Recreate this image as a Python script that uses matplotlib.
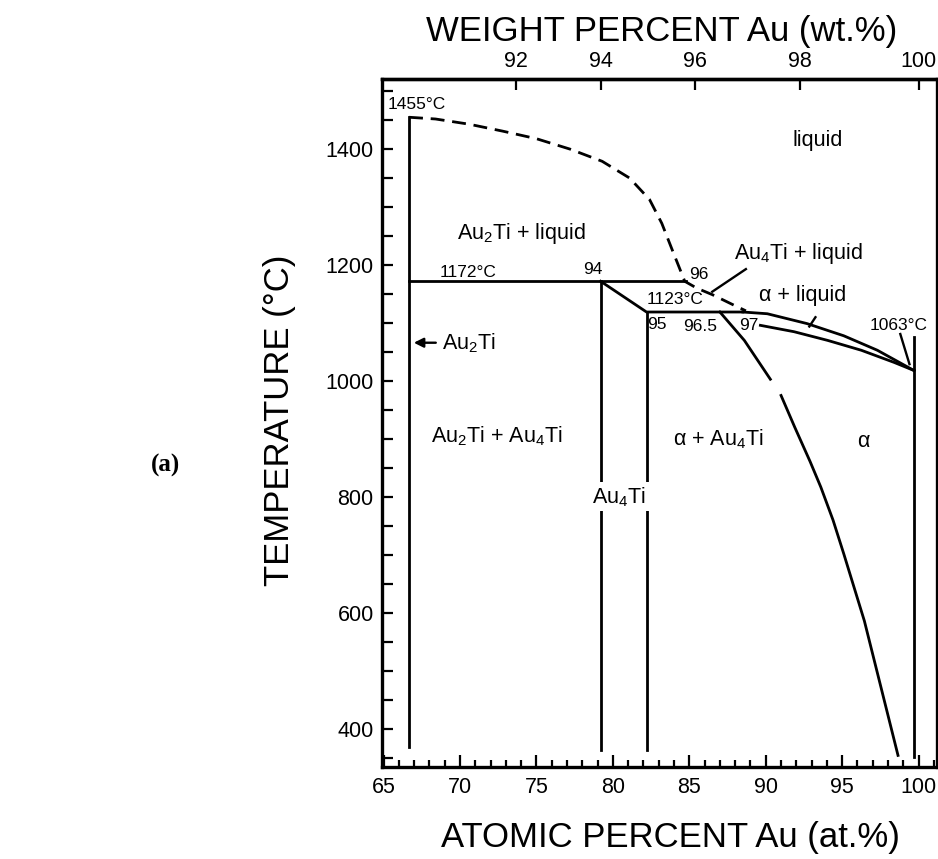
import matplotlib
matplotlib.use("Agg")
import matplotlib.pyplot as plt
from matplotlib.ticker import MultipleLocator, FixedLocator

plt.rcParams['font.family'] = ['Liberation Sans', 'DejaVu Sans']
plt.rcParams['mathtext.fontset'] = 'custom'
plt.rcParams['mathtext.rm'] = 'Liberation Sans'
plt.rcParams['mathtext.default'] = 'regular'

# molar masses for the wt% <-> at% top scale
M_AU = 196.97
M_TI = 47.87

# liquidus of Au2Ti (dashed), at% Au vs temperature
liq_x = [66.67, 68.4, 70.6, 72.8, 75.0, 77.2, 79.3, 81.1, 82.4, 83.2, 83.9, 84.7,
         85.5, 86.5, 87.9, 88.7]
liq_T = [1455, 1452, 1443, 1431, 1418, 1400, 1379, 1350, 1313, 1272, 1225, 1172,
         1160, 1149, 1131, 1121]

# invariant lines
eut_x = [66.67, 84.8]
eut_T = [1172, 1172]
peri_x = [79.2, 82.2, 88.5]
peri_T = [1172, 1119, 1119]

# alpha liquidus and solidus
aliq_x = [88.5, 90.1, 92.7, 95.1, 97.3, 99.7]
aliq_T = [1119, 1116, 1099, 1078, 1053, 1018]
asol_x = [89.65, 91.85, 94.05, 96.25, 98.4, 99.7]
asol_T = [1096, 1085, 1070, 1053, 1032, 1018]

# alpha solvus (two pieces, broken)
solv1_x = [87.0, 88.6, 90.3]
solv1_T = [1119, 1070, 1003]
solv2_x = [91.0, 91.9, 92.9, 93.6, 94.4, 95.1, 96.45, 97.55, 98.65]
solv2_T = [975, 920, 861, 817, 760, 702, 586, 470, 354]

# vertical phase boundaries: (at%, top T, bottom T)
verticals = [(66.67, 1455, 368), (79.2, 1172, 364), (82.2, 1119, 364), (99.7, 1076, 352)]

wt_ticks = [92, 94, 96, 98, 100]


def at_to_wt(x):
    return 100 * x * M_AU / (x * M_AU + (100 - x) * M_TI)


def wt_to_at(w):
    return 100 * (w / M_AU) / (w / M_AU + (100 - w) / M_TI)


fig = plt.figure(figsize=(9.38, 8.59), dpi=100)
ax = fig.add_axes([382 / 938, 92 / 859, 555 / 938, 688 / 859])

lw = 2.0
ax.plot(liq_x, liq_T, color='black', lw=lw, linestyle=(0, (5, 2.8)))
ax.plot(eut_x, eut_T, color='black', lw=lw)
ax.plot(peri_x, peri_T, color='black', lw=lw)
ax.plot(aliq_x, aliq_T, color='black', lw=lw)
ax.plot(asol_x, asol_T, color='black', lw=lw)
ax.plot(solv1_x, solv1_T, color='black', lw=lw)
ax.plot(solv2_x, solv2_T, color='black', lw=lw)
for x, t1, t2 in verticals:
    ax.plot([x, x], [t1, t2], color='black', lw=lw)

# leader lines
ax.plot([88.7, 86.5], [1193, 1154], color='black', lw=1.7)
ax.plot([92.85, 93.25], [1094, 1110], color='black', lw=1.7)
ax.plot([98.8, 99.4], [1081, 1029], color='black', lw=1.7)
ax.annotate('', xy=(66.8, 1066), xytext=(68.6, 1066),
            arrowprops=dict(arrowstyle='-|>', color='black', lw=1.7, mutation_scale=14))

small = 12.5
big = 15.5
ax.text(67.2, 1477, '1455°C', fontsize=small, ha='center', va='center')
ax.text(70.5, 1188, '1172°C', fontsize=small, ha='center', va='center')
ax.text(78.7, 1192, '94', fontsize=small, ha='center', va='center')
ax.text(85.6, 1183, '96', fontsize=small, ha='center', va='center')
ax.text(84.1, 1140, '1123°C', fontsize=small, ha='center', va='center')
ax.text(82.85, 1097, '95', fontsize=small, ha='center', va='center')
ax.text(85.7, 1094, '96.5', fontsize=small, ha='center', va='center')
ax.text(88.9, 1096, '97', fontsize=small, ha='center', va='center')
ax.text(98.7, 1096, '1063°C', fontsize=small, ha='center', va='center')

ax.text(93.4, 1415, 'liquid', fontsize=big, ha='center', va='center')
ax.text(74.0, 1255, 'Au$_2$Ti + liquid', fontsize=big, ha='center', va='center')
ax.text(92.1, 1220, 'Au$_4$Ti + liquid', fontsize=big, ha='center', va='center')
ax.text(92.4, 1148, 'α + liquid', fontsize=big, ha='center', va='center')
ax.text(68.8, 1066, 'Au$_2$Ti', fontsize=big, ha='left', va='center')
ax.text(72.4, 904, 'Au$_2$Ti + Au$_4$Ti', fontsize=big, ha='center', va='center')
ax.text(86.9, 899, 'α + Au$_4$Ti', fontsize=big, ha='center', va='center')
ax.text(96.35, 896, 'α', fontsize=big, ha='center', va='center')
ax.text(80.4, 800, 'Au$_4$Ti', fontsize=big, ha='center', va='center', zorder=5,
        bbox=dict(facecolor='white', edgecolor='none', pad=2))

ax.set_xlim(64.9, 101.2)
ax.set_ylim(334, 1521)
ax.xaxis.set_minor_locator(MultipleLocator(1))
ax.yaxis.set_minor_locator(MultipleLocator(50))
ax.set_xticks([65, 70, 75, 80, 85, 90, 95, 100])
ax.set_yticks([400, 600, 800, 1000, 1200, 1400])
ax.tick_params(axis='x', which='major', direction='in', length=9, width=1.6,
               labelsize=15.5, pad=7)
ax.tick_params(axis='x', which='minor', direction='in', length=5, width=1.6)
ax.tick_params(axis='y', which='both', direction='in', length=8, width=1.6,
               labelsize=15.5, pad=6)
for s in ax.spines.values():
    s.set_linewidth(2.4)

sec = ax.secondary_xaxis('top', functions=(at_to_wt, wt_to_at))
sec.xaxis.set_major_locator(FixedLocator(wt_ticks))
sec.tick_params(direction='in', length=8, width=1.6, labelsize=15.5, pad=5)
sec.spines['top'].set_linewidth(2.4)

fig.text(662 / 938, 1 - 31 / 859, 'WEIGHT PERCENT Au (wt.%)', fontsize=25,
         ha='center', va='center')
fig.text(670 / 938, 1 - 838 / 859, 'ATOMIC PERCENT Au (at.%)', fontsize=25,
         ha='center', va='center')
fig.text(280 / 938, 1 - 420 / 859, 'TEMPERATURE (°C)', fontsize=25,
         ha='center', va='center', rotation=90)
fig.text(165 / 938, 1 - 465 / 859, '(a)', fontsize=18, family='Liberation Serif',
         fontweight='bold', ha='center', va='center')

fig.savefig('out.png', dpi=100)
